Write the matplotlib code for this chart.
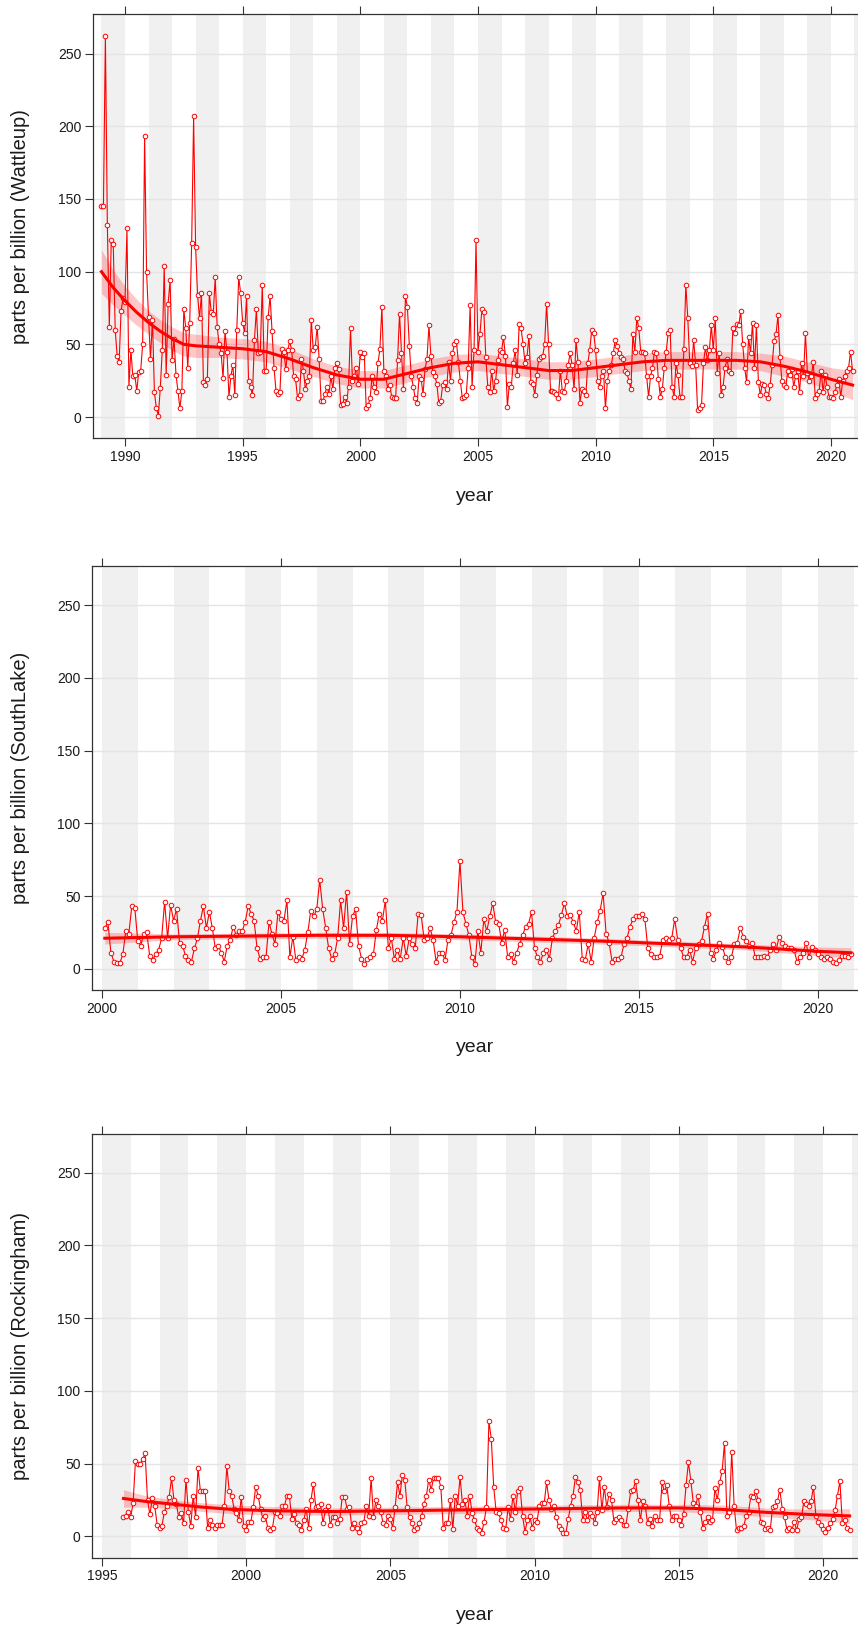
import matplotlib
matplotlib.use("Agg")
import matplotlib.pyplot as plt
import numpy as np

plt.rcParams["font.family"] = ["Liberation Sans", "DejaVu Sans"]

# monthly mean concentrations (ppb), one row per calendar year
WATTLEUP_START = (1989, 1)
WATTLEUP_PPB = [
    145, 145, 262, 132, 62, 122, 119, 60, 42, 38, 73, 82,
    79, 130, 21, 46, 28, 29, 18, 31, 32, 50, 193, 100,
    69, 40, 67, 17, 6, 1, 20, 46, 104, 29, 78, 94,
    39, 54, 29, 18, 6, 18, 74, 61, 34, 65, 120, 207,
    117, 84, 68, 85, 24, 22, 26, 85, 72, 71, 96, 62,
    50, 44, 27, 59, 45, 14, 28, 36, 15, 60, 96, 85,
    65, 58, 83, 25, 21, 15, 53, 74, 44, 45, 91, 32,
    32, 69, 83, 59, 34, 18, 16, 17, 47, 45, 33, 46,
    52, 46, 28, 26, 13, 15, 40, 32, 19, 25, 28, 67,
    46, 48, 62, 40, 11, 11, 16, 21, 16, 28, 19, 34,
    37, 33, 8, 9, 14, 10, 21, 61, 25, 28, 34, 23,
    45, 41, 44, 6, 8, 13, 28, 21, 17, 37, 47, 76,
    32, 28, 19, 22, 14, 13, 13, 39, 71, 44, 19, 83,
    76, 49, 28, 21, 13, 10, 28, 26, 16, 33, 40, 63,
    42, 31, 28, 23, 10, 11, 22, 24, 19, 38, 25, 44,
    50, 52, 38, 25, 13, 14, 15, 34, 77, 21, 46, 122,
    45, 57, 74, 72, 41, 21, 17, 32, 18, 25, 39, 46,
    45, 55, 42, 7, 23, 21, 37, 46, 29, 64, 61, 50,
    37, 41, 56, 24, 23, 15, 29, 40, 41, 42, 50, 78,
    50, 18, 18, 17, 16, 13, 32, 18, 17, 25, 36, 44,
    36, 19, 53, 38, 10, 19, 18, 15, 37, 46, 60, 58,
    46, 25, 21, 28, 32, 6, 25, 32, 36, 44, 53, 49,
    44, 41, 40, 32, 30, 25, 19, 57, 45, 68, 61, 45,
    45, 44, 28, 14, 28, 34, 45, 44, 26, 14, 19, 34,
    45, 58, 60, 21, 14, 37, 29, 14, 14, 47, 91, 68,
    37, 35, 53, 36, 5, 6, 8, 37, 48, 39, 46, 63,
    46, 68, 30, 44, 15, 21, 34, 40, 32, 30, 61, 58,
    64, 63, 73, 50, 34, 24, 55, 44, 65, 34, 63, 24,
    15, 23, 22, 16, 13, 22, 36, 52, 57, 70, 41, 25,
    22, 21, 32, 29, 33, 21, 28, 32, 17, 37, 28, 58,
    30, 25, 28, 38, 13, 16, 18, 32, 17, 29, 21, 14,
    14, 13, 17, 22, 26, 14, 25, 28, 32, 34, 45, 32,
]

SOUTHLAKE_START = (2000, 2)
SOUTHLAKE_PPB = [
    28, 32, 11, 5, 4, 4, 10, 26, 24, 43, 42,
    19, 16, 24, 25, 9, 6, 10, 13, 21, 46, 21, 44,
    33, 41, 18, 16, 9, 6, 5, 14, 21, 33, 43, 28,
    39, 28, 14, 16, 11, 5, 16, 20, 29, 23, 26, 26,
    32, 43, 38, 33, 14, 7, 8, 8, 32, 24, 17, 39,
    34, 33, 47, 8, 22, 6, 8, 7, 13, 25, 40, 36,
    41, 61, 41, 28, 14, 7, 10, 21, 47, 28, 53, 17,
    36, 41, 16, 7, 3, 7, 8, 10, 27, 38, 33, 47,
    14, 21, 7, 13, 7, 21, 9, 21, 17, 14, 38, 37,
    20, 21, 28, 20, 5, 11, 11, 6, 20, 23, 32, 39,
    74, 39, 31, 23, 8, 3, 26, 11, 34, 26, 36, 45,
    32, 31, 18, 27, 8, 10, 5, 11, 17, 23, 29, 31,
    39, 14, 8, 5, 11, 13, 7, 21, 26, 30, 37, 45,
    36, 37, 32, 26, 39, 7, 6, 17, 5, 21, 32, 40,
    52, 24, 18, 5, 7, 7, 8, 17, 21, 29, 34, 36,
    36, 38, 34, 14, 10, 8, 8, 9, 20, 21, 20, 21,
    34, 20, 14, 8, 8, 13, 5, 14, 17, 19, 29, 38,
    11, 7, 13, 18, 15, 8, 5, 8, 17, 18, 28, 22,
    19, 16, 18, 8, 8, 8, 9, 8, 13, 17, 13, 22,
    18, 16, 14, 14, 13, 5, 8, 11, 18, 8, 15, 13,
    10, 8, 7, 8, 7, 5, 4, 6, 9, 9, 8, 10,
]

ROCKINGHAM_START = (1995, 10)
ROCKINGHAM_PPB = [
    13, 14, 17,
    13, 23, 52, 50, 50, 53, 57, 25, 15, 26, 21, 8,
    6, 7, 17, 21, 27, 40, 25, 22, 13, 16, 9, 39,
    17, 7, 28, 13, 47, 31, 31, 31, 6, 11, 8, 6,
    8, 8, 8, 21, 48, 31, 28, 19, 16, 11, 27, 7,
    4, 10, 10, 20, 34, 28, 19, 12, 14, 6, 4, 6,
    17, 16, 14, 21, 21, 28, 28, 12, 15, 9, 8, 4,
    11, 19, 6, 25, 36, 20, 21, 22, 9, 18, 21, 8,
    13, 13, 9, 12, 27, 27, 19, 20, 6, 9, 6, 3,
    9, 10, 21, 14, 40, 13, 25, 21, 17, 9, 8, 14,
    12, 6, 20, 37, 28, 42, 39, 20, 13, 9, 4, 6,
    9, 14, 22, 28, 39, 32, 40, 40, 40, 34, 6, 9,
    9, 25, 5, 28, 21, 41, 22, 25, 14, 28, 16, 11,
    6, 4, 2, 10, 20, 79, 67, 34, 17, 16, 11, 6,
    5, 20, 12, 28, 17, 31, 33, 14, 3, 11, 14, 6,
    11, 10, 21, 23, 23, 37, 25, 19, 21, 13, 7, 5,
    2, 2, 12, 21, 28, 41, 37, 32, 11, 17, 11, 16,
    14, 9, 17, 40, 18, 34, 20, 29, 25, 10, 12, 13,
    11, 8, 8, 19, 31, 32, 38, 25, 11, 24, 21, 9,
    12, 7, 14, 11, 11, 37, 31, 35, 21, 11, 14, 14,
    11, 8, 15, 35, 51, 38, 23, 21, 28, 17, 6, 10,
    13, 10, 11, 33, 25, 37, 45, 64, 14, 17, 58, 21,
    4, 6, 6, 7, 14, 17, 28, 27, 31, 25, 10, 9,
    5, 6, 4, 20, 21, 24, 32, 19, 13, 4, 6, 4,
    10, 4, 12, 13, 24, 22, 21, 24, 34, 14, 10, 8,
    5, 3, 6, 9, 12, 18, 28, 38, 9, 11, 6, 4,
]

# smooth trend with its confidence half-width
WATTLEUP_TREND_X = [1989.0, 1989.5, 1990.0, 1990.5, 1991.0, 1991.5, 1992.0, 1992.5,
                    1993.0, 1994.0, 1995.0, 1996.0, 1997.0, 1998.0, 1999.0, 2000.0,
                    2001.0, 2002.0, 2003.0, 2004.0, 2005.0, 2006.0, 2007.0, 2008.0,
                    2009.0, 2010.0, 2011.0, 2012.0, 2013.0, 2014.0, 2015.0, 2016.0,
                    2017.0, 2018.0, 2019.0, 2020.0, 2020.92]
WATTLEUP_TREND_Y = [100, 89, 80, 72, 65, 59, 54, 50, 49, 48, 47, 45, 40, 34, 29, 26,
                    26, 30, 34, 37, 38, 36, 34, 32, 32, 34, 36, 38, 39, 39, 39, 39,
                    38, 35, 31, 26, 22]
WATTLEUP_TREND_SE = [15, 12, 10, 9, 8, 8, 8, 8, 8, 7, 7, 7, 7, 6, 6, 6,
                     6, 6, 6, 6, 6, 6, 6, 6, 6, 6, 6, 6, 6, 6, 6, 6,
                     6, 7, 7, 8, 10]

SOUTHLAKE_TREND_X = [2000.08, 2002.0, 2004.0, 2006.0, 2008.0, 2010.0, 2012.0,
                     2014.0, 2016.0, 2018.0, 2019.0, 2020.0, 2020.92]
SOUTHLAKE_TREND_Y = [21, 22, 22.5, 23, 23, 22, 20.5, 19, 17, 15, 13.5, 12, 11]
SOUTHLAKE_TREND_SE = [4, 2, 2, 2, 2, 2, 2, 2, 2, 2, 2.5, 3, 3.5]

ROCKINGHAM_TREND_X = [1995.75, 1996.5, 1997.5, 1998.5, 1999.5, 2001.0, 2003.0, 2005.0,
                      2007.0, 2009.0, 2011.0, 2013.0, 2015.0, 2016.5, 2018.0, 2019.5,
                      2020.92]
ROCKINGHAM_TREND_Y = [26, 24, 22, 20, 18.5, 17.5, 17, 17.5, 18, 18.5, 19, 19.5, 19.5,
                      18.5, 16.5, 15, 14]
ROCKINGHAM_TREND_SE = [6, 4, 3, 3, 3, 3, 2.5, 2.5, 2.5, 2.5, 2.5, 2.5, 2.5, 3, 3, 3.5, 5]

Y_TICKS = [0, 50, 100, 150, 200, 250]

W, H = 858, 1629
RED = "#FF0000"
FRAME = "#333333"


def month_axis(start, n):
    year, month = start
    return year + (month - 1) / 12 + np.arange(n) / 12


def draw_panel(fig, rect_px, site, start, values, trend, xlim, xticks):
    left, top, height = rect_px
    ax = fig.add_axes([left / W, 1 - (top + height) / H, (W - left) / W, height / H])
    x = month_axis(start, len(values))

    # alternate-year shading from the first year with data
    for yr in range(start[0], int(xlim[1]) + 1, 2):
        ax.axvspan(yr, yr + 1, color="#F0F0F0", lw=0, zorder=0)

    ax.set_axisbelow(True)
    ax.yaxis.grid(True, color="#E4E4E4", lw=1.0)

    tx, ty, tse = (np.asarray(a, dtype=float) for a in trend)
    ax.fill_between(tx, ty - tse, ty + tse, color=RED, alpha=0.22, lw=0, zorder=2)
    ax.plot(x, values, color=RED, lw=0.8, marker="o", ms=3.3, mfc="white",
            mec=RED, mew=0.7, zorder=3)
    ax.plot(tx, ty, color=RED, lw=2.2, zorder=4)

    ax.set_xlim(*xlim)
    ax.set_ylim(-14.6, 277)
    ax.set_xticks(xticks)
    ax.set_yticks(Y_TICKS)
    ax.tick_params(direction="out", length=5.5, width=0.8, colors=FRAME,
                   labelcolor="#1a1a1a", labelsize=10, pad=3, top=True, right=False)
    ax.spines["right"].set_visible(False)
    for side in ("left", "bottom", "top"):
        ax.spines[side].set_color(FRAME)
        ax.spines[side].set_linewidth(0.9)

    fig.text(475 / W, 1 - (top + height + 58) / H, "year", ha="center", va="center",
             fontsize=14, color="#1a1a1a")
    fig.text(21 / W, 1 - (top + height / 2) / H, f"parts per billion ({site})",
             ha="center", va="center", rotation=90, fontsize=14.5, color="#1a1a1a")
    return ax


fig = plt.figure(figsize=(W / 100, H / 100), dpi=100)

draw_panel(fig, (93, 14.3, 424), "Wattleup", WATTLEUP_START, WATTLEUP_PPB,
           (WATTLEUP_TREND_X, WATTLEUP_TREND_Y, WATTLEUP_TREND_SE),
           (1988.64, 2021.15), [1990, 1995, 2000, 2005, 2010, 2015, 2020])
draw_panel(fig, (92.3, 566, 424), "SouthLake", SOUTHLAKE_START, SOUTHLAKE_PPB,
           (SOUTHLAKE_TREND_X, SOUTHLAKE_TREND_Y, SOUTHLAKE_TREND_SE),
           (1999.73, 2021.12), [2000, 2005, 2010, 2015, 2020])
draw_panel(fig, (92.3, 1133.5, 424), "Rockingham", ROCKINGHAM_START, ROCKINGHAM_PPB,
           (ROCKINGHAM_TREND_X, ROCKINGHAM_TREND_Y, ROCKINGHAM_TREND_SE),
           (1994.67, 2021.21), [1995, 2000, 2005, 2010, 2015, 2020])

fig.savefig("out.png", dpi=100)
plt.close(fig)
